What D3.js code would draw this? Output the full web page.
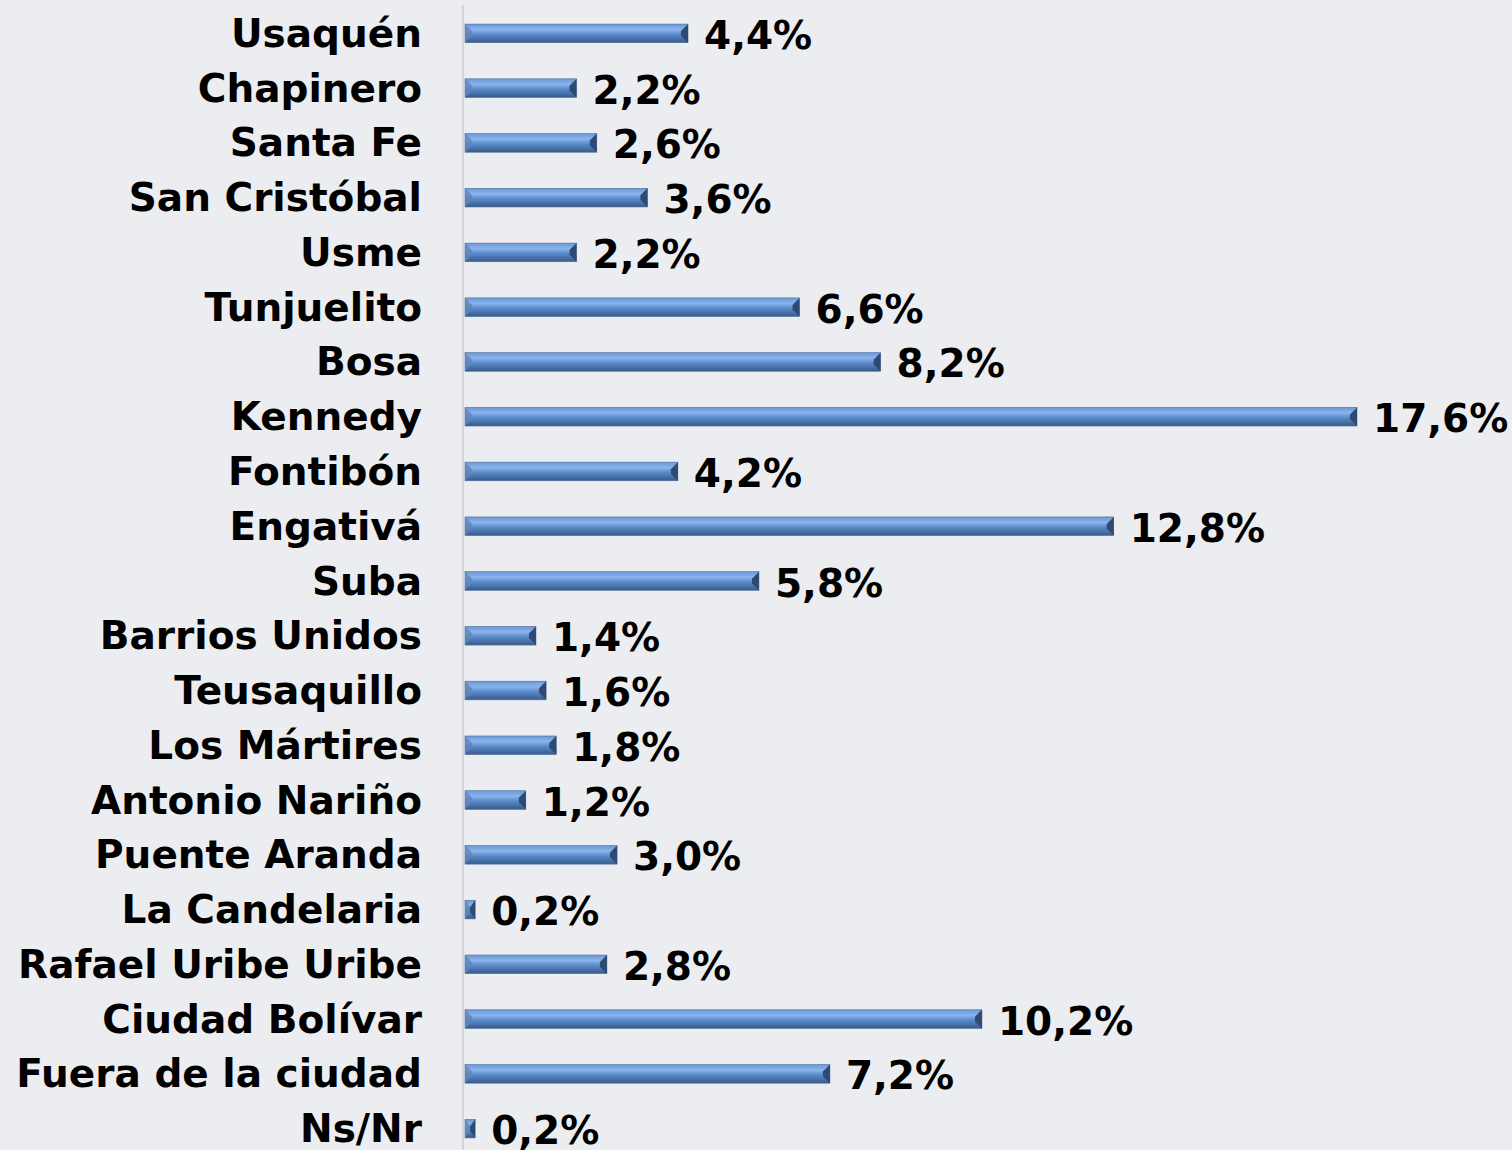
<!DOCTYPE html>
<html>
<head>
<meta charset="utf-8">
<script src="https://cdn.jsdelivr.net/npm/d3@7"></script>
<style>
  html, body { margin: 0; padding: 0; background: #ecedf0; }
  svg text { font-family: "DejaVu Sans", Verdana, sans-serif; font-weight: bold; fill: #000; }
</style>
</head>
<body>
<svg id="chart" width="1512" height="1150"></svg>
<script>
const localidades = ["Usaquén", "Chapinero", "Santa Fe", "San Cristóbal", "Usme", "Tunjuelito", "Bosa",
  "Kennedy", "Fontibón", "Engativá", "Suba", "Barrios Unidos", "Teusaquillo", "Los Mártires",
  "Antonio Nariño", "Puente Aranda", "La Candelaria", "Rafael Uribe Uribe", "Ciudad Bolívar",
  "Fuera de la ciudad", "Ns/Nr"];
const porcentajes = [4.4, 2.2, 2.6, 3.6, 2.2, 6.6, 8.2, 17.6, 4.2, 12.8, 5.8, 1.4, 1.6, 1.8, 1.2, 3.0, 0.2, 2.8, 10.2, 7.2, 0.2];

const width = 1512, height = 1150;
const svg = d3.select("#chart");

const x0 = 465;
const x = d3.scaleLinear().domain([0, 17.6]).range([x0, 1357]);
const y = d3.scaleBand().domain(localidades).range([6, 1156]).paddingInner(0.66).paddingOuter(0.33);

// gradient for the bevelled bars
const defs = svg.append("defs");
const grad = defs.append("linearGradient").attr("id", "barFill").attr("x1", 0).attr("y1", 0).attr("x2", 0).attr("y2", 1);
grad.append("stop").attr("offset", "0%").attr("stop-color", "#6a98d6");
grad.append("stop").attr("offset", "30%").attr("stop-color", "#8ab4ec");
grad.append("stop").attr("offset", "55%").attr("stop-color", "#5b8bcb");
grad.append("stop").attr("offset", "100%").attr("stop-color", "#385a8a");

// axis line
svg.append("line")
  .attr("x1", x0 - 2).attr("x2", x0 - 2)
  .attr("y1", 5).attr("y2", height)
  .attr("stroke", "#d4d5d8").attr("stroke-width", 2);

const rows = svg.append("g").selectAll("g")
  .data(localidades)
  .join("g")
  .attr("transform", d => `translate(0, ${y(d)})`);

const bh = y.bandwidth();
const bev = Math.min(7, bh / 2);

rows.append("rect")
  .attr("x", x0)
  .attr("y", 0)
  .attr("width", (d, i) => x(porcentajes[i]) - x0)
  .attr("height", bh)
  .attr("fill", "url(#barFill)")
  .attr("stroke", "#4d6f9c")
  .attr("stroke-width", 0.6);

// left bevel
rows.append("path")
  .attr("d", (d, i) => {
    const w = Math.min(bev, (x(porcentajes[i]) - x0) / 2);
    return `M${x0},0 L${x0 + w},${bev} L${x0 + w},${bh - bev} L${x0},${bh} Z`;
  })
  .attr("fill", "#5f86bb")
  .attr("opacity", 0.8);

// right bevel
rows.append("path")
  .attr("d", (d, i) => {
    const xe = x(porcentajes[i]);
    const w = Math.min(bev, (xe - x0) / 2);
    return `M${xe},0 L${xe - w},${bev} L${xe - w},${bh - bev} L${xe},${bh} Z`;
  })
  .attr("fill", "#2e4a72");

// category labels
rows.append("text")
  .attr("x", 422)
  .attr("y", bh / 2)
  .attr("text-anchor", "end")
  .attr("dominant-baseline", "central")
  .style("font-size", "39px")
  .text(d => d);

// value labels
rows.append("text")
  .attr("x", (d, i) => x(porcentajes[i]) + 16)
  .attr("y", bh / 2 + 2)
  .attr("dominant-baseline", "central")
  .style("font-size", "39px")
  .text((d, i) => porcentajes[i].toFixed(1).replace(".", ",") + "%");
</script>
</body>
</html>
